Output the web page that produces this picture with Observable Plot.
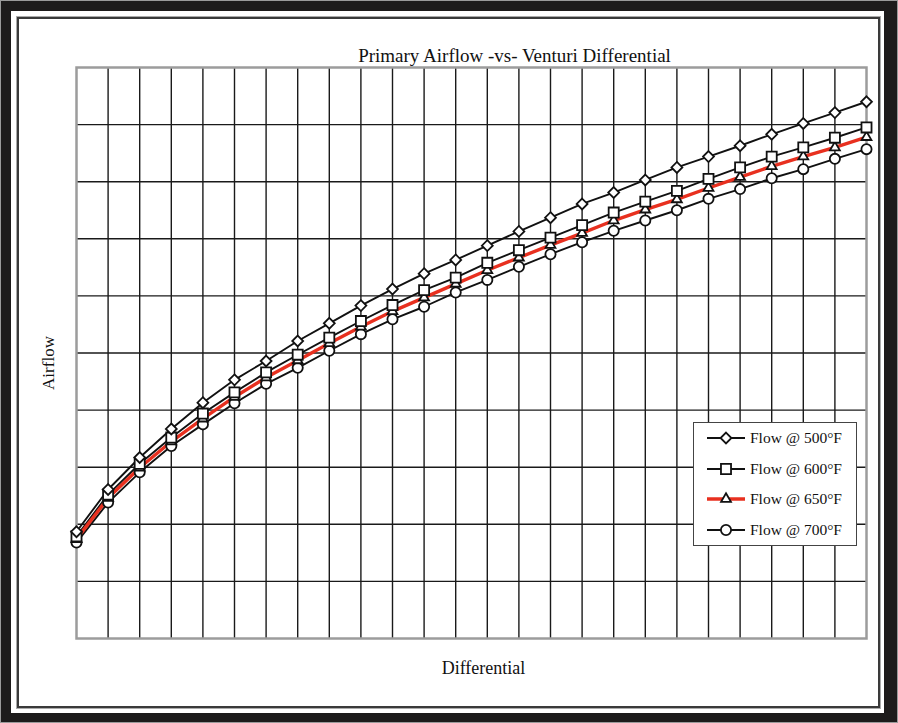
<!DOCTYPE html>
<html>
<head>
<meta charset="utf-8">
<script src="https://cdn.jsdelivr.net/npm/d3@7"></script>
<script src="https://cdn.jsdelivr.net/npm/@observablehq/plot@0.6"></script>
<style>
  html, body { margin: 0; padding: 0; background: #fff; }
  #wrap { position: relative; width: 898px; height: 723px; overflow: hidden; background: #fff;
          font-family: "Liberation Serif", "Times New Roman", serif; }
  #chart { position: absolute; left: 0; top: 0; }
  #outer { position: absolute; left: 0; top: 0; width: 898px; height: 723px; box-sizing: border-box;
           border: 1px solid #9a9a9a; pointer-events: none; }
  #outer2 { position: absolute; left: 1px; top: 1px; right: 1px; bottom: 1px;
            border-style: solid; border-color: #1d1b1b; border-width: 10px 13px 9px 10px; pointer-events: none; }
  #inner { position: absolute; left: 17px; top: 17px; right: 18px; bottom: 15px;
           border: 2px solid #3a3a3a; box-shadow: 0 0 0 1px #aaa; pointer-events: none; }
  #legend { position: absolute; left: 693px; top: 422px; width: 162px; height: 122px;
            border: 1px solid #444; background: #fff; }
</style>
</head>
<body>
<div id="wrap">
  <div id="chart"></div>
  <div id="outer"></div>
  <div id="outer2"></div>
  <div id="inner"></div>
  <div id="legend"></div>
</div>
<script>
// ---- data (no tick labels on the original) ----
const titleText = "Primary Airflow -vs- Venturi Differential";
const xLabel = "Differential";
const yLabel = "Airflow";

const differential = [0,1,2,3,4,5,6,7,8,9,10,11,12,13,14,15,16,17,18,19,20,21,22,23,24,25];

const flow500 = [18.7,26.1,31.7,36.7,41.3,45.3,48.6,52.1,55.2,58.3,61.2,63.9,66.3,68.8,71.3,73.7,76.1,78.1,80.3,82.5,84.4,86.3,88.3,90.2,92.1,94.0];
const flow600 = [17.9,25.2,30.6,35.2,39.4,43.1,46.6,49.7,52.7,55.6,58.4,61.0,63.2,65.8,68.0,70.2,72.4,74.6,76.5,78.4,80.5,82.5,84.4,86.0,87.7,89.5];
const flow650 = [17.4,24.6,29.9,34.5,38.5,42.3,45.7,48.7,51.7,54.6,57.3,59.7,62.1,64.5,66.7,68.9,71.0,73.2,75.1,76.9,78.9,80.8,82.7,84.4,86.0,87.8];
const flow700 = [16.8,23.8,29.1,33.7,37.5,41.2,44.6,47.4,50.4,53.3,55.9,58.1,60.6,62.8,65.1,67.3,69.4,71.4,73.2,75.0,77.0,78.7,80.6,82.2,84.0,85.7];

const seriesNames = ["Flow @ 500°F", "Flow @ 600°F", "Flow @ 650°F", "Flow @ 700°F"];
const xGrid = [1,2,3,4,5,6,7,8,9,10,11,12,13,14,15,16,17,18,19,20,21,22,23,24];
const yGrid = [10,20,30,40,50,60,70,80,90];

// ---- styles ----
const seriesStyle = [
  {values: flow500, symbol: "diamond2", r: 4.9, stroke: "#111", lineWidth: 1.9},
  {values: flow600, symbol: "square2",  r: 6.4, stroke: "#111", lineWidth: 1.9},
  {values: flow650, symbol: "triangle2",r: 4.7, stroke: "#e8301f", lineWidth: 3.4},
  {values: flow700, symbol: "circle",   r: 5.1, stroke: "#111", lineWidth: 1.9}
];

const tables = seriesStyle.map((s, k) =>
  differential.map((x, i) => ({series: seriesNames[k], x, y: s.values[i]})));

const font = "'Liberation Serif', 'Times New Roman', serif";

const lineMarks = [0, 1, 3, 2].map(k =>
  Plot.line(tables[k], {x: "x", y: "y", stroke: seriesStyle[k].stroke, strokeWidth: seriesStyle[k].lineWidth}));
const dotMarks = [3, 2, 1, 0].map(k =>
  Plot.dot(tables[k], {x: "x", y: "y", symbol: () => seriesStyle[k].symbol, r: seriesStyle[k].r,
    fill: "white", stroke: "#111", strokeWidth: 1.8}));

const chart = Plot.plot({
  width: 898,
  height: 723,
  marginLeft: 76,
  marginRight: 32,
  marginTop: 67,
  marginBottom: 85,
  style: {fontFamily: font, background: "white", overflow: "visible"},
  x: {domain: [0, 25], axis: null},
  y: {domain: [0, 100], axis: null},
  symbol: {type: "identity"},
  marks: [
    Plot.ruleX(xGrid, {stroke: "#1a1a1a", strokeWidth: 1.4}),
    Plot.ruleY(yGrid, {stroke: "#1a1a1a", strokeWidth: 1.4}),
    Plot.frame({stroke: "#9c9c9c", strokeWidth: 2.5}),
    ...lineMarks,
    ...dotMarks,
    Plot.text([titleText], {frameAnchor: "top", textAnchor: "middle", lineAnchor: "middle", dx: 43, dy: -12,
      fontSize: 19, fill: "#111", fontFamily: font}),
    Plot.text([xLabel], {frameAnchor: "bottom", textAnchor: "middle", lineAnchor: "middle", dx: 12, dy: 30,
      fontSize: 18, fill: "#111", fontFamily: font}),
    Plot.text([yLabel], {frameAnchor: "left", textAnchor: "middle", lineAnchor: "middle", dx: -28, dy: 10, rotate: -90,
      fontSize: 17, fill: "#111", fontFamily: font})
  ]
});
document.getElementById("chart").appendChild(chart);

// ---- legend ----
const legend = d3.select("#legend").append("svg").attr("width", 162).attr("height", 122)
  .style("display", "block");
const rowY = [15, 46, 76, 107];
const symMap = {diamond2: d3.symbolDiamond2, square2: d3.symbolSquare2, triangle2: d3.symbolTriangle2, circle: d3.symbolCircle};
seriesStyle.forEach((s, k) => {
  const g = legend.append("g").attr("transform", `translate(0,${rowY[k]})`);
  g.append("line").attr("x1", 13).attr("x2", 51).attr("y1", 0).attr("y2", 0)
    .attr("stroke", s.stroke).attr("stroke-width", s.lineWidth);
  g.append("path").attr("transform", "translate(32,0)")
    .attr("d", d3.symbol(symMap[s.symbol], s.r * s.r * Math.PI)())
    .attr("fill", "white").attr("stroke", "#111").attr("stroke-width", 1.8);
  g.append("text").attr("x", 56).attr("y", 0).attr("dy", "0.35em")
    .attr("font-family", font).attr("font-size", 15.5).attr("fill", "#111")
    .text(seriesNames[k]);
});
</script>
</body>
</html>
